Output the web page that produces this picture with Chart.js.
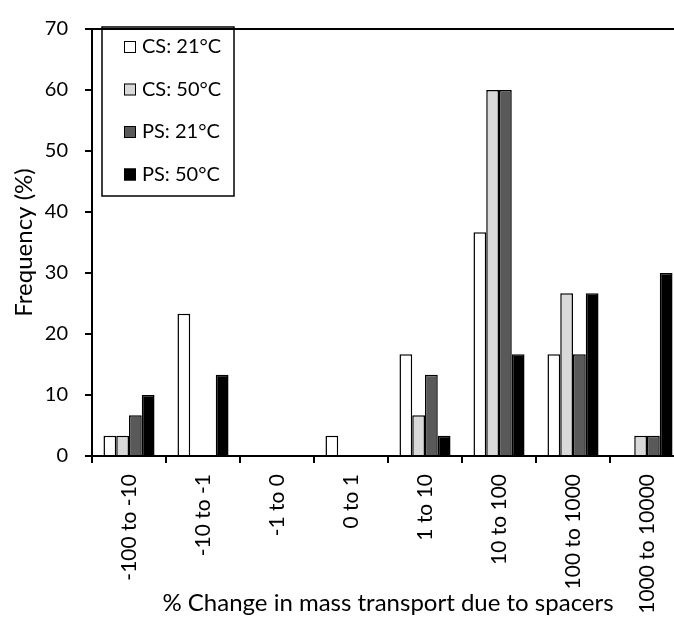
<!DOCTYPE html>
<html>
<head>
<meta charset="utf-8">
<script src="https://cdn.jsdelivr.net/npm/chart.js@4/dist/chart.umd.min.js"></script>
<style>
  html, body { margin: 0; padding: 0; background: #fff; overflow: hidden; }
</style>
</head>
<body>
<canvas id="chart" width="690" height="630"></canvas>
<script>
const categories = ['-100 to -10', '-10 to -1', '-1 to 0', '0 to 1', '1 to 10', '10 to 100', '100 to 1000', '1000 to 10000'];
const cs21 = [3.33, 23.33, 0, 3.33, 16.67, 36.67, 16.67, 0];
const cs50 = [3.33, 0, 0, 0, 6.67, 60, 26.67, 3.33];
const ps21 = [6.67, 0, 0, 0, 13.33, 60, 16.67, 3.33];
const ps50 = [10, 13.33, 0, 0, 3.33, 16.67, 26.67, 30];
const yTicks = [0, 10, 20, 30, 40, 50, 60, 70];

const FONT = 'Lato';

// legend box drawn inside the plot, plus the plot frame
const boxLegend = {
  id: 'boxLegend',
  afterDraw(chart) {
    const ctx = chart.ctx;
    const a = chart.chartArea;
    ctx.save();
    ctx.strokeStyle = '#000';
    ctx.lineWidth = 2;
    ctx.strokeRect(a.left, a.top, a.right - a.left, a.bottom - a.top);

    ctx.lineWidth = 1.5;
    ctx.strokeRect(102, 27, 132, 169);
    ctx.font = '20px ' + FONT;
    ctx.textBaseline = 'middle';
    chart.data.datasets.forEach((ds, i) => {
      const y = 47 + i * 42.5;
      ctx.fillStyle = ds.backgroundColor;
      ctx.fillRect(124, y - 6, 12, 12);
      ctx.lineWidth = 1;
      ctx.strokeRect(124.5, y - 5.5, 11, 11);
      ctx.fillStyle = '#000';
      ctx.fillText(ds.label, 142, y);
    });
    ctx.restore();
  }
};

new Chart(document.getElementById('chart'), {
  type: 'bar',
  data: {
    labels: categories,
    datasets: [
      { label: 'CS: 21°C', data: cs21, backgroundColor: '#ffffff' },
      { label: 'CS: 50°C', data: cs50, backgroundColor: '#d9d9d9' },
      { label: 'PS: 21°C', data: ps21, backgroundColor: '#595959' },
      { label: 'PS: 50°C', data: ps50, backgroundColor: '#000000' }
    ].map(d => Object.assign(d, {
      borderColor: '#000',
      borderWidth: 1.5,
      barPercentage: 1,
      categoryPercentage: 0.69
    }))
  },
  options: {
    responsive: false,
    animation: false,
    layout: { padding: { top: 16, right: 6, left: 0, bottom: 0 } },
    plugins: { legend: { display: false }, tooltip: { enabled: false } },
    scales: {
      x: {
        offset: true,
        grid: { display: true, drawOnChartArea: false, offset: true, tickLength: 7, color: '#000', lineWidth: 2 },
        border: { color: '#000', width: 2 },
        ticks: {
          autoSkip: false, maxRotation: 90, minRotation: 90, padding: 11,
          color: '#000', font: { family: FONT, size: 21 }
        },
        title: {
          display: true, text: '% Change in mass transport due to spacers',
          color: '#000', font: { family: FONT, size: 24 }, padding: { top: 0, bottom: 12 }
        },
        afterFit(s) { s.height = 630 - 456; }
      },
      y: {
        min: 0, max: 70,
        afterBuildTicks(s) { s.ticks = yTicks.map(v => ({ value: v })); },
        grid: { display: true, drawOnChartArea: false, tickLength: 7, color: '#000', lineWidth: 2 },
        border: { color: '#000', width: 2 },
        ticks: { padding: 17, color: '#000', font: { family: FONT, size: 20 } },
        title: {
          display: true, text: 'Frequency (%)',
          color: '#000', font: { family: FONT, size: 24 }, padding: { top: 10, bottom: 0 }
        },
        afterFit(s) { s.width = 92; }
      }
    }
  },
  plugins: [boxLegend]
});
</script>
</body>
</html>
